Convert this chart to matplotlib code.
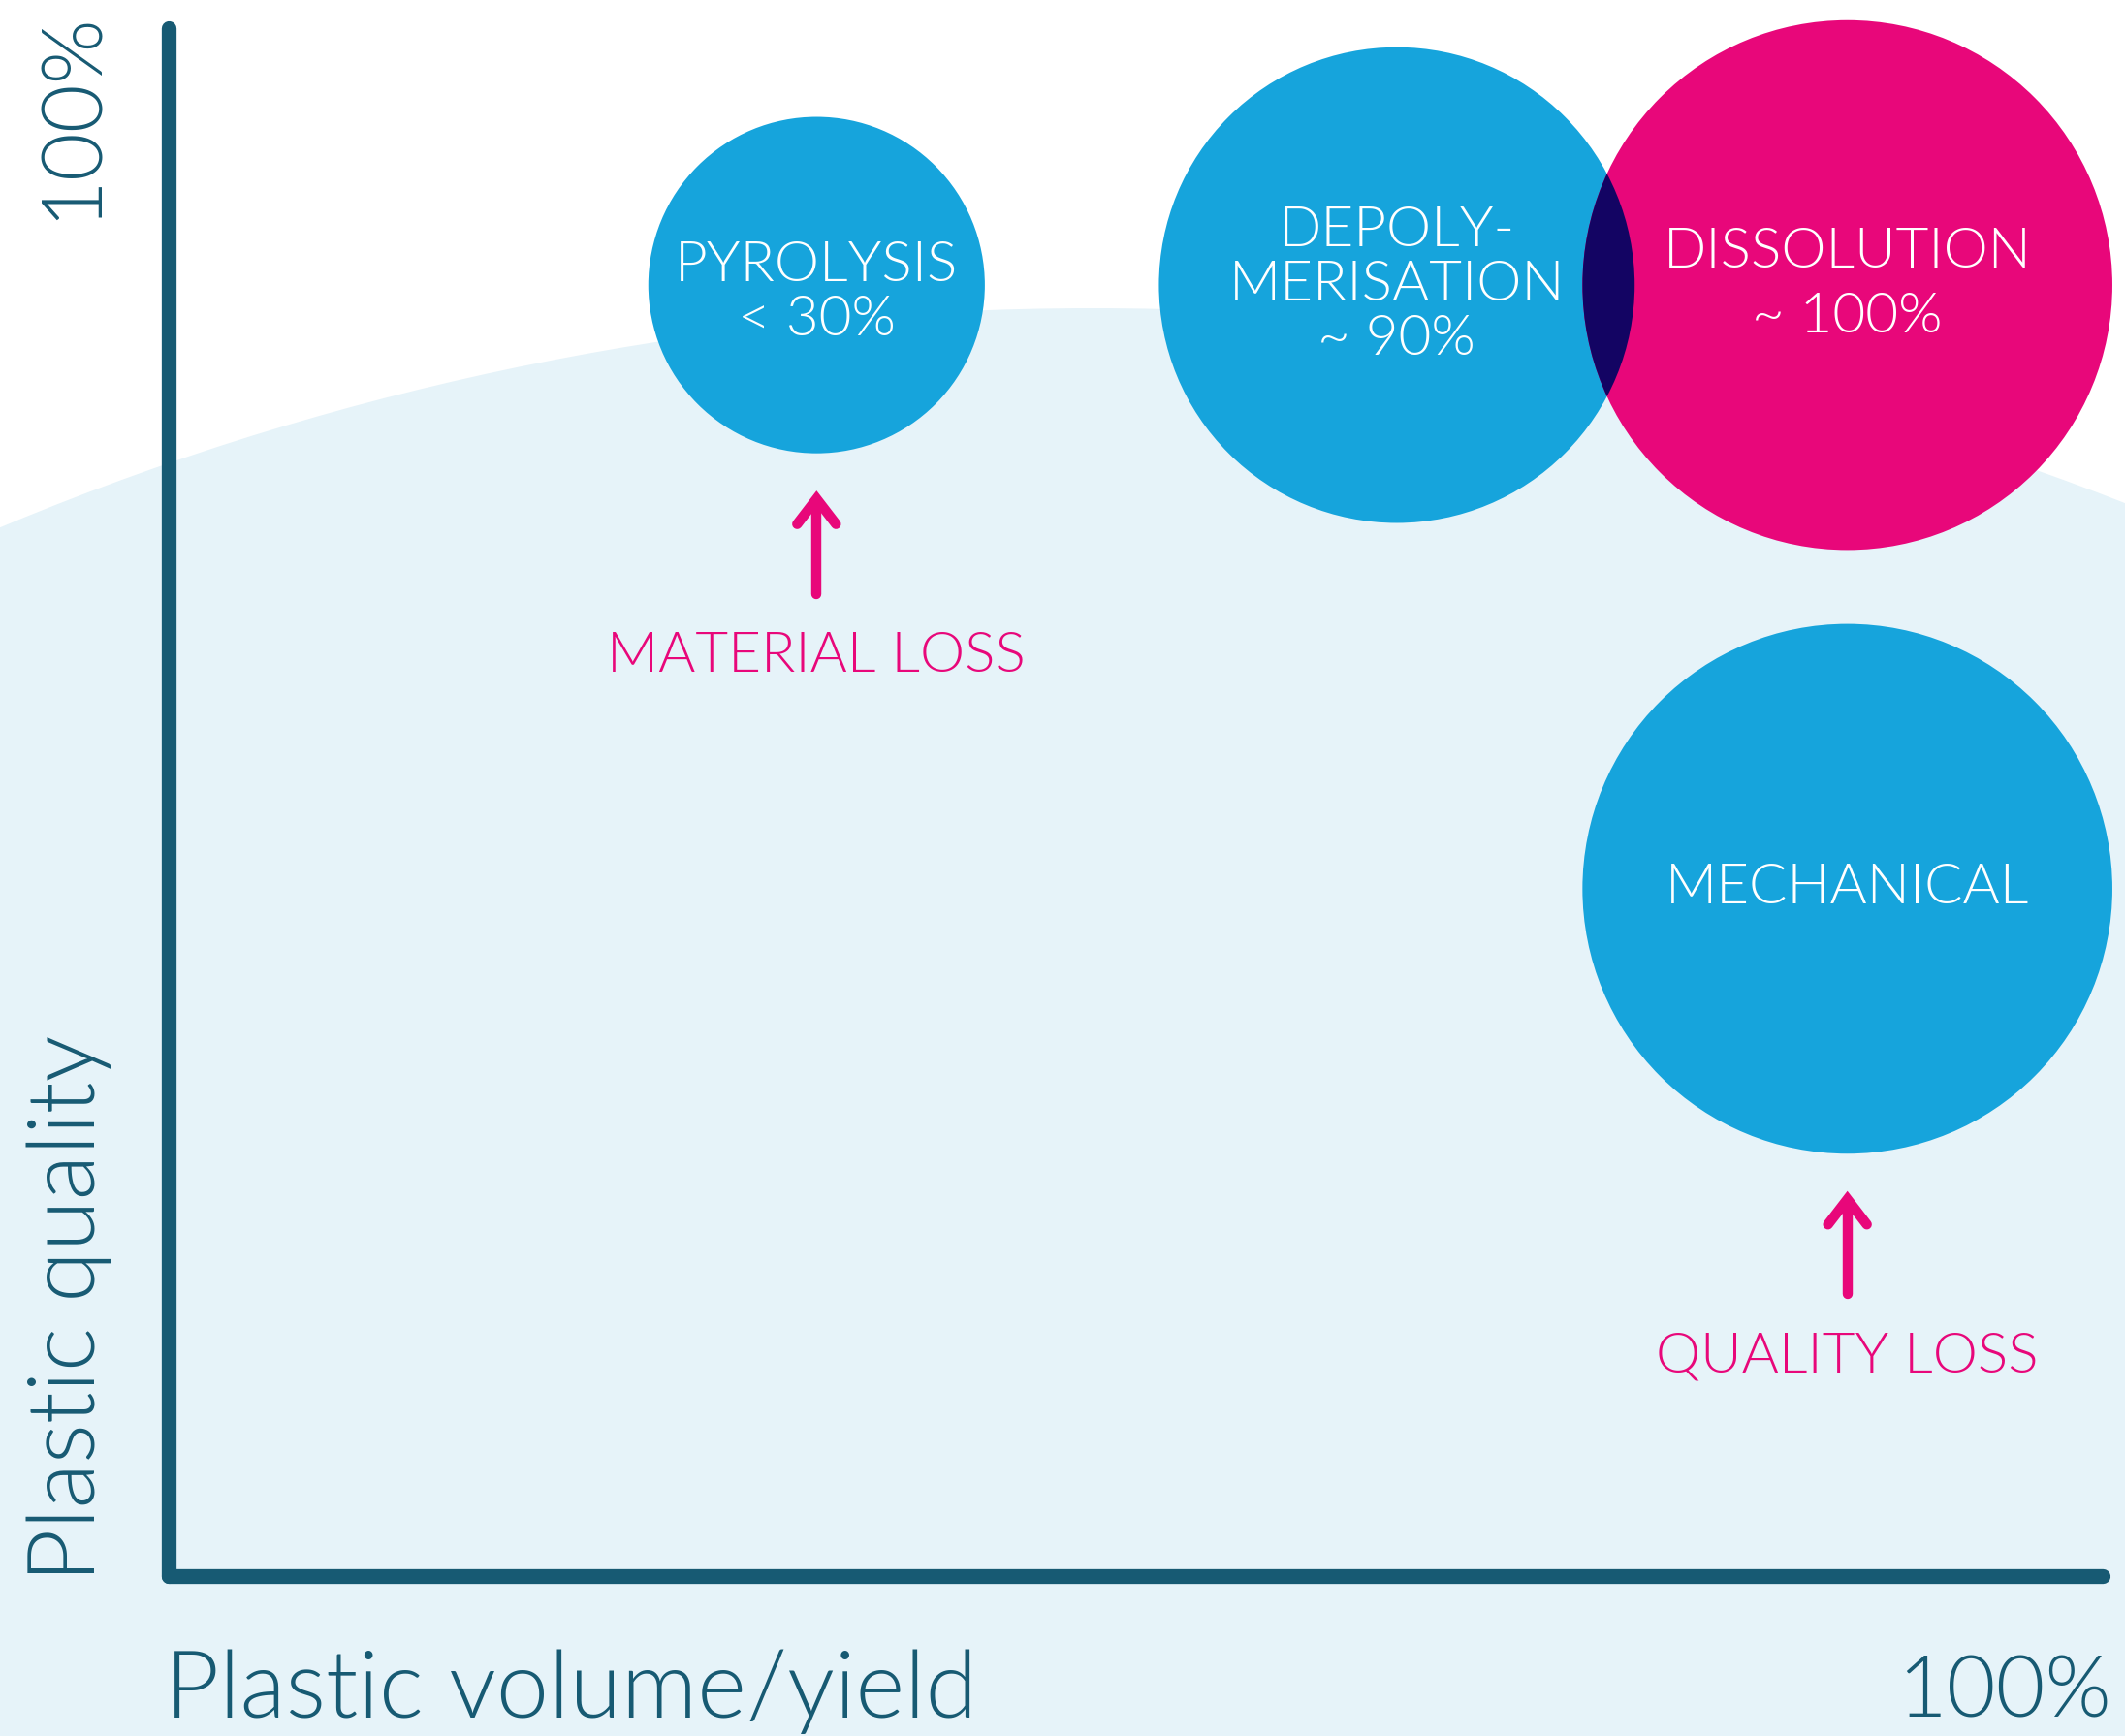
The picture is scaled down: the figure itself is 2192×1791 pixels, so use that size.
import matplotlib
matplotlib.use('Agg')
import matplotlib.pyplot as plt
from matplotlib.patches import Ellipse, Circle

# bubble chart data (x = plastic volume/yield %, y = plastic quality %)
processes = ['PYROLYSIS\n< 30%', 'DEPOLY-\nMERISATION\n~ 90%', 'DISSOLUTION\n~ 100%', 'MECHANICAL']
volume_yield = [33.5, 63.5, 86.8, 86.8]
quality = [83.4, 83.4, 83.4, 44.4]
bubble_r = [8.7, 12.3, 13.7, 13.7]
bubble_kind = ['blue', 'blue', 'pink', 'blue']

loss_labels = ['MATERIAL LOSS', 'QUALITY LOSS']
loss_bubble = [0, 3]

x_label = 'Plastic volume/yield'
y_label = 'Plastic quality'
max_label = '100%'

# colours
BLUE = '#16a4dc'
PINK = '#e8077a'
NAVY = '#130463'
AXIS = '#175a73'
BG = '#e6f3f9'

W, H = 2192, 1791
ORIGIN = (174, 165)      # pixel position of (0, 0), from bottom-left
XPPU, YPPU = 19.95, 15.97  # pixels per data unit
FW = 300  # Lato Light

plt.rcParams['font.family'] = ['Lato', 'DejaVu Sans']

fig = plt.figure(figsize=(W / 100, H / 100), dpi=100)
ax = fig.add_axes([0, 0, 1, 1])
ax.set_xlim(-ORIGIN[0] / XPPU, (W - ORIGIN[0]) / XPPU)
ax.set_ylim(-ORIGIN[1] / YPPU, (H - ORIGIN[1]) / YPPU)
ax.axis('off')


def dx(px):
    return px / XPPU


def dy(px):
    return px / YPPU


# light blue background dome
ax.add_patch(Circle((11.27, -14.48), 29.21, transform=fig.dpi_scale_trans,
                    facecolor=BG, edgecolor='none', zorder=0))

# axes
ax.plot([0, 100], [0, 0], color=AXIS, lw=11, solid_capstyle='round', zorder=1)
ax.plot([0, 0], [0, 100], color=AXIS, lw=11, solid_capstyle='round', zorder=1)

# bubbles
patches = []
for i, name in enumerate(processes):
    x, y, r = volume_yield[i], quality[i], bubble_r[i]
    col = PINK if bubble_kind[i] == 'pink' else BLUE
    e = Ellipse((x, y), 2 * r, 2 * r * XPPU / YPPU, facecolor=col,
                edgecolor='none', zorder=2)
    ax.add_patch(e)
    patches.append(e)

# overlap of depolymerisation and dissolution
ov = Ellipse((volume_yield[1], quality[1]), 2 * bubble_r[1], 2 * bubble_r[1] * XPPU / YPPU,
             facecolor=NAVY, edgecolor='none', zorder=2.5)
ax.add_patch(ov)
ov.set_clip_path(patches[2])

for i, name in enumerate(processes):
    x, y = volume_yield[i], quality[i]
    off = -dy(8) if i == 0 else 0
    ls = 1.4 if i == 2 else 1.12
    ax.text(x, y + off, name, ha='center', va='center', multialignment='center',
            color='white', fontsize=42, fontweight=FW, linespacing=ls, zorder=3)

# loss arrows
for lab, j in zip(loss_labels, loss_bubble):
    x = volume_yield[j]
    bottom = quality[j] - bubble_r[j] * XPPU / YPPU
    tip = bottom - dy(47)
    base = tip - dy(98)
    ax.plot([x, x], [base, tip - dy(6)], color=PINK, lw=7.5, solid_capstyle='round', zorder=3)
    ax.plot([x - dx(20), x, x + dx(20)], [tip - dy(26), tip, tip - dy(26)], color=PINK,
            lw=7.5, solid_capstyle='round', solid_joinstyle='miter', zorder=3)
    ax.text(x, base - dy(65), lab, ha='center', va='center', color=PINK,
            fontsize=42, fontweight=FW, zorder=3)

# axis texts
fig.text(170 / W, (H - 1772) / H, x_label, ha='left', va='baseline', color=AXIS,
         fontsize=70, fontweight=FW)
fig.text(2178 / W, (H - 1772) / H, max_label, ha='right', va='baseline', color=AXIS,
         fontsize=63, fontweight=FW)
fig.text(98 / W, (H - 1632) / H, y_label, ha='left', va='baseline', rotation=90,
         rotation_mode='anchor', color=AXIS, fontsize=69, fontweight=FW)
fig.text(98 / W, (H - 119) / H, max_label, ha='center', va='baseline', rotation=90,
         rotation_mode='anchor', color=AXIS, fontsize=62, fontweight=FW)

fig.savefig('out.png', dpi=100, facecolor='white')
